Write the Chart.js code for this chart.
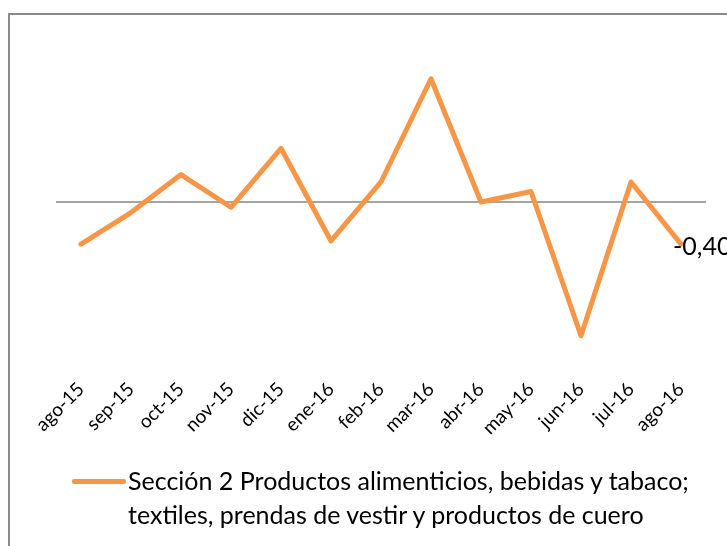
<!DOCTYPE html>
<html>
<head>
<meta charset="utf-8">
<script src="https://cdn.jsdelivr.net/npm/chart.js@4.4.1/dist/chart.umd.min.js"></script>
<style>
  html, body { margin: 0; padding: 0; background: #fff; overflow: hidden; }
  #wrap { position: relative; width: 727px; height: 546px; }
  #frame { position: absolute; left: 8px; top: 13px; width: 800px; height: 600px;
           border-left: 2px solid #8a8a8a; border-top: 2px solid #8a8a8a; }
  canvas { position: absolute; left: 0; top: 0; }
  #legend { position: absolute; left: 72px; top: 463px; font-family: Lato, sans-serif;
            font-size: 25px; line-height: 34px; color: #000; white-space: nowrap; }
  #legend .swatch { position: absolute; left: 0; top: 16px; width: 54px; height: 5px;
                    background: #F79646; border-radius: 2px; }
  #legend .txt { margin-left: 56px; }
</style>
</head>
<body>
<div id="wrap">
  <div id="frame"></div>
  <canvas id="chart" width="727" height="546"></canvas>
  <div id="legend"><div class="swatch"></div><div class="txt">Sección 2 Productos alimenticios, bebidas y tabaco;<br>textiles, prendas de vestir y productos de cuero</div></div>
</div>
<script>
const labels = ['ago-15', 'sep-15', 'oct-15', 'nov-15', 'dic-15', 'ene-16', 'feb-16',
                'mar-16', 'abr-16', 'may-16', 'jun-16', 'jul-16', 'ago-16'];
const values = [-0.40, -0.10, 0.26, -0.05, 0.51, -0.37, 0.19, 1.17, 0.00, 0.10, -1.27, 0.19, -0.40];
const seriesName = 'Sección 2 Productos alimenticios, bebidas y tabaco; textiles, prendas de vestir y productos de cuero';

// linea del cero y etiqueta del ultimo punto
const extras = {
  id: 'extras',
  beforeDatasetsDraw(chart) {
    const { ctx, chartArea, scales } = chart;
    const y0 = scales.y.getPixelForValue(0);
    ctx.save();
    ctx.strokeStyle = '#868686';
    ctx.lineWidth = 1.5;
    ctx.beginPath();
    ctx.moveTo(chartArea.left, y0);
    ctx.lineTo(chartArea.right, y0);
    ctx.stroke();
    ctx.restore();
  },
  afterDatasetsDraw(chart) {
    const { ctx } = chart;
    const meta = chart.getDatasetMeta(0);
    const last = meta.data[meta.data.length - 1];
    const v = values[values.length - 1];
    ctx.save();
    ctx.font = '25px Lato, sans-serif';
    ctx.fillStyle = '#000';
    ctx.textAlign = 'left';
    ctx.textBaseline = 'middle';
    ctx.fillText(v.toFixed(2).replace('.', ','), last.x - 8, last.y + 3);
    ctx.restore();
  }
};

new Chart(document.getElementById('chart'), {
  type: 'line',
  data: {
    labels: labels,
    datasets: [{
      label: seriesName,
      data: values,
      borderColor: '#F79646',
      borderWidth: 5,
      pointRadius: 0,
      tension: 0,
      borderCapStyle: 'round',
      borderJoinStyle: 'round',
      clip: false
    }]
  },
  options: {
    responsive: false,
    animation: false,
    layout: { padding: { left: 56, right: 21, top: 44, bottom: 100 } },
    scales: {
      x: {
        offset: true,
        grid: { display: false },
        border: { display: false },
        afterFit(scale) { scale.height = 86; },
        ticks: {
          maxRotation: 45, minRotation: 45, padding: 10,
          color: '#000',
          font: { family: 'Lato', size: 19 }
        }
      },
      y: { display: false, min: -1.5, max: 1.5 }
    },
    plugins: {
      legend: { display: false },
      tooltip: { enabled: false }
    }
  },
  plugins: [extras]
});
</script>
</body>
</html>
